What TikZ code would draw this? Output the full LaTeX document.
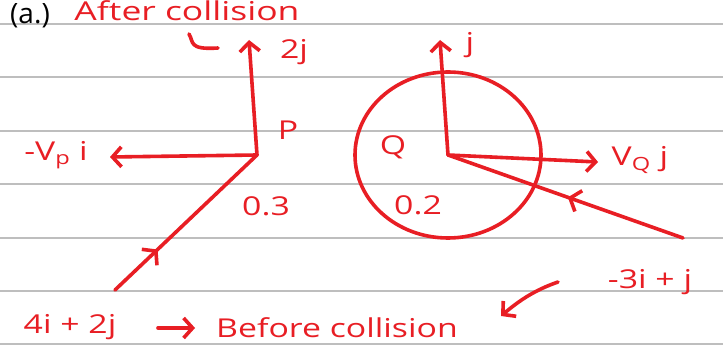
\documentclass[tikz,border=0pt]{standalone}
\usepackage{fontspec}
\setmainfont{Open Sans}
\usetikzlibrary{arrows.meta,decorations.markings}
\definecolor{ink}{RGB}{232,30,36}
\definecolor{ruleline}{RGB}{190,190,190}
\tikzset{
  pen/.style={draw=ink, line width=3.6pt, line cap=round, line join=round},
  barb/.style={-{Straight Barb[length=9pt,width=20pt,line width=3.6pt]}},
  lbl/.style={text=ink, inner sep=0pt, xscale=1.3, font=\fontsize{26}{28}\selectfont},
  midbarb/.style={postaction={decorate}, decoration={markings, mark=at position #1 with {\arrow{Straight Barb[length=9pt,width=22pt,line width=3.6pt]}}}}
}
\begin{document}
\begin{tikzpicture}[x=1pt,y=-1pt]
\useasboundingbox (0,0) rectangle (723,358);
\fill[white] (0,0) rectangle (723,358);
\foreach \yy in {24,77,131,184,238,291,344}
  \draw[ruleline, line width=1.3pt] (0,\yy) -- (723,\yy);

% coordinates
\coordinate (p) at (257,155);
\coordinate (p2j) at (249,40);
\coordinate (pvp) at (110,157);
\coordinate (pin) at (115,290);
\coordinate (q) at (448,155);
\coordinate (qj) at (440,40);
\coordinate (qv) at (598,162);
\coordinate (qin) at (683,238);

% headings
\node[inner sep=0pt, font=\fontsize{28}{30}\selectfont] (hdr) at (30,16) {(a.)};
\node[lbl, xscale=1.05] (after) at (187,11) {After collision};
\draw[pen] (189,34) .. controls (194,42) and (188,50) .. (218,48);

% body P
\draw[pen, barb] (p) -- (p2j);
\draw[pen, barb] (p) -- (pvp);
\draw[pen, midbarb=0.3] (pin) -- (p);
\node[lbl] (l2j) at (294,52) {2j};
\node[lbl] (lP) at (288,130) {P};
\node[lbl] (lvp) at (56,155) {-V\textsubscript{p} i};
\node[lbl] (l03) at (266,206) {0.3};

% body Q
\draw[pen] (q) ellipse [x radius=93, y radius=83];
\draw[pen, barb] (q) -- (qj);
\draw[pen, barb] (q) -- (qv);
\draw[pen, midbarb=0.49] (qin) -- (q);
\node[lbl] (lj) at (470,45) {j};
\node[lbl] (lQ) at (393,147) {Q};
\node[lbl] (lvq) at (640,160) {V\textsubscript{Q} j};
\node[lbl] (l02) at (418,205) {0.2};

% bottom
\node[lbl] (lq) at (650,282) {-3i + j};
\coordinate (cs) at (558,282);
\coordinate (ce) at (501,316);
\draw[pen, barb] (cs) .. controls (535,290) and (520,300) .. (ce);
\node[lbl] (lp) at (70,327) {4i + 2j};
\coordinate (as) at (158,328);
\coordinate (ae) at (195,328);
\draw[pen, barb] (as) -- (ae);
\node[lbl] (before) at (337,328) {Before collision};
\end{tikzpicture}
\end{document}
